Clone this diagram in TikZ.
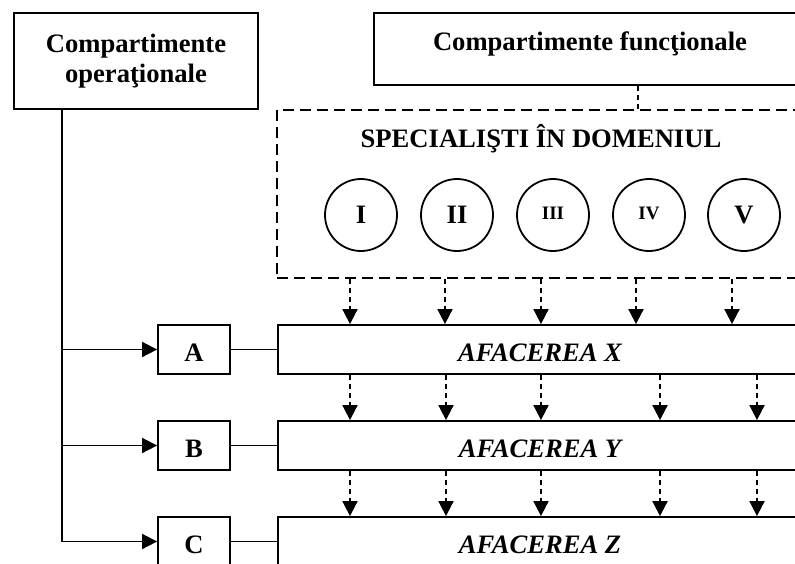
\documentclass[tikz,border=0pt]{standalone}
\usepackage{fontspec}
\setmainfont{Liberation Serif}
\usepackage{tikz}
\usetikzlibrary{arrows.meta, shapes}
\newcommand{\bigtxt}{\fontsize{26.6}{30}\selectfont}
\newcommand{\smalltxt}{\fontsize{19}{19}\selectfont}

\begin{document}
\begin{tikzpicture}[x=1pt, y=-1pt, line width=1.8pt,
				box/.style={draw, inner sep=0pt, font=\bigtxt\bfseries},
				rowbox/.style={box, minimum width=524pt, minimum height=49pt, font=\bigtxt\bfseries\itshape, text height=24pt, text depth=0pt},
				letterbox/.style={box, minimum width=72pt, minimum height=49pt, text height=24pt, text depth=0pt},
				spec/.style={draw, circle, minimum size=72pt, inner sep=0pt, font=\bigtxt\bfseries},
				dashbox/.style={draw, dash pattern=on 11pt off 6pt, minimum width=528pt, minimum height=168pt},
				dasharrow/.style={->, dash pattern=on 5pt off 4pt},
				>={Triangle[length=15pt, width=15pt]}]
				% Bildbereich
				\useasboundingbox (0,0) rectangle (795,563);
				\clip (0,0) rectangle (795,563);
				% Kopfkaesten
				\node[box, minimum width=244pt, minimum height=96pt, align=center] (op) at (136,61) {Compartimente\\operaţionale};
				\node[box, minimum width=432pt, minimum height=72pt, text height=18pt, text depth=16pt] (func) at (590,49) {Compartimente funcţionale};
				% Spezialisten
				\node[dashbox] (dom) at (541,194) {};
				\node[font=\bigtxt\bfseries, anchor=base] (titlu) at (541,147) {SPECIALIŞTI ÎN DOMENIUL};
				\foreach \n/\x/\lbl in {1/361/I, 2/457/II, 3/553/{\raisebox{3pt}{\smalltxt III}}, 4/649/{\raisebox{3pt}{\smalltxt IV}}, 5/744/V}
					\node[spec] (s\n) at (\x,215) {\lbl};
				\coordinate (fd) at (638,0);
				\draw[dash pattern=on 5pt off 4pt] (func.south -| fd) -- (dom.north -| fd);
				% Afaceri und Buchstaben
				\coordinate (tr) at (62,0);
				\foreach \r/\y/\l in {X/349.5/A, Y/445.5/B, Z/541.5/C} {
					\node[rowbox] (af\r) at (540,\y) {AFACEREA \r};
					\node[letterbox] (lit\l) at (194,\y) {\l};
					\draw (lit\l) -- (af\r);
				}
				\draw (op.south -| tr) -- (tr |- litC.west);
				\foreach \l in {A,B,C} \draw[->] (tr |- lit\l.west) -- (lit\l.west);
				% Pfeile nach unten
				\foreach \x in {350,445,541,636,732} {
					\coordinate (p\x) at (\x,0);
					\draw[dasharrow] (p\x |- dom.south) -- (p\x |- afX.north);
				}
				\foreach \x in {350,446,541,660,757} {
					\coordinate (q\x) at (\x,0);
					\draw[dasharrow] (q\x |- afX.south) -- (q\x |- afY.north);
					\draw[dasharrow] (q\x |- afY.south) -- (q\x |- afZ.north);
				}
			\end{tikzpicture}
\end{document}
